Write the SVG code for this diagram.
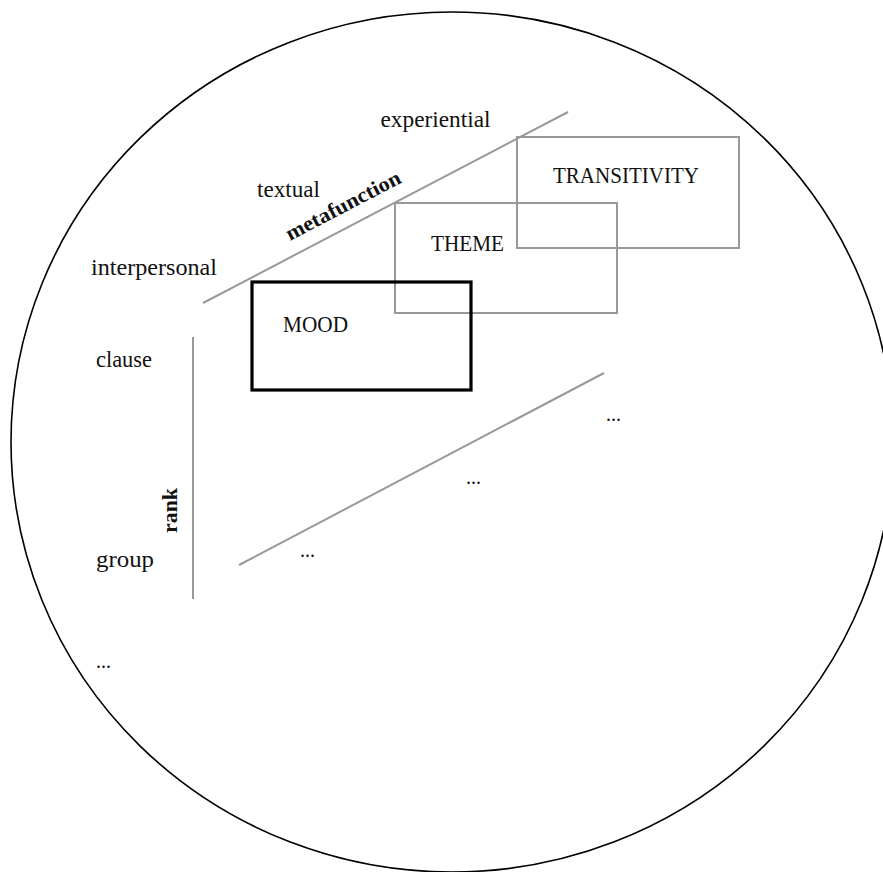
<svg xmlns="http://www.w3.org/2000/svg" width="883" height="872" viewBox="0 0 883 872">
  <style>
    .lbl { font-family: "Liberation Serif", "Times New Roman", serif; font-size: 23px; fill: #111; }
    .axis-name { font-family: "Liberation Serif", "Times New Roman", serif; font-size: 21px; font-weight: bold; fill: #111; }
    .dots { font-family: "Liberation Serif", "Times New Roman", serif; font-size: 20px; fill: #111; }
    .axis { stroke: #999; stroke-width: 2; fill: none; }
    .box { stroke: #999; stroke-width: 2; fill: none; }
    .box-main { stroke: #000; stroke-width: 3.2; fill: none; }
  </style>

  <rect width="883" height="872" fill="#fff"/>

  <!-- enclosing boundary -->
  <ellipse id="boundary" cx="452" cy="442" rx="441" ry="430" fill="none" stroke="#000" stroke-width="1.6"/>

  <!-- axes -->
  <g id="axes">
    <line class="axis" x1="203" y1="303" x2="568" y2="112"/>
    <line class="axis" x1="193" y1="337" x2="193" y2="599"/>
    <line class="axis" x1="239" y1="565" x2="604" y2="373"/>
  </g>

  <!-- metafunction labels -->
  <g id="metafunctions">
    <text class="lbl" x="380.5" y="127" textLength="110" lengthAdjust="spacingAndGlyphs">experiential</text>
    <text class="lbl" x="257" y="197" textLength="63" lengthAdjust="spacingAndGlyphs">textual</text>
    <text class="lbl" x="91" y="275" textLength="126" lengthAdjust="spacingAndGlyphs">interpersonal</text>
    <text class="axis-name" transform="translate(290 241) rotate(-27.6)" textLength="127" lengthAdjust="spacingAndGlyphs">metafunction</text>
  </g>

  <!-- rank labels -->
  <g id="ranks">
    <text class="lbl" x="96" y="367" textLength="56" lengthAdjust="spacingAndGlyphs">clause</text>
    <text class="lbl" x="96" y="567" textLength="58" lengthAdjust="spacingAndGlyphs">group</text>
    <text class="dots" x="96" y="668">...</text>
    <text class="axis-name" transform="translate(177 533) rotate(-90)" textLength="45" lengthAdjust="spacingAndGlyphs">rank</text>
  </g>

  <!-- systems -->
  <g id="transitivity">
    <rect class="box" x="517" y="137" width="222" height="111"/>
    <text class="lbl" x="553" y="183" textLength="146" lengthAdjust="spacingAndGlyphs">TRANSITIVITY</text>
  </g>
  <g id="theme">
    <rect class="box" x="395" y="203" width="222" height="110"/>
    <text class="lbl" x="431" y="251" textLength="73" lengthAdjust="spacingAndGlyphs">THEME</text>
  </g>
  <g id="mood">
    <rect class="box-main" x="252" y="282" width="219" height="108"/>
    <text class="lbl" x="283" y="332" textLength="65" lengthAdjust="spacingAndGlyphs">MOOD</text>
  </g>

  <!-- lower rank placeholders -->
  <g id="placeholders">
    <text class="dots" x="606" y="421">...</text>
    <text class="dots" x="466" y="484">...</text>
    <text class="dots" x="300" y="557">...</text>
  </g>
</svg>
